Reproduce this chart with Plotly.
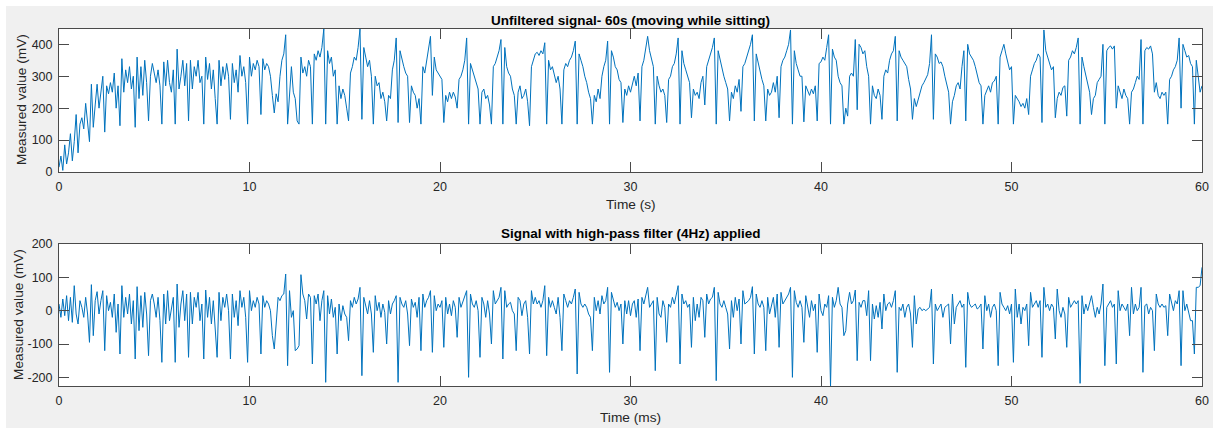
import plotly.graph_objects as go

# ---- recorded data (10 samples per second, 0 .. 60 s) ----
SAMPLE_RATE_HZ = 10

unfiltered_mv = [
    15, 50, 5, 85, 25, 60, 120, 35, 95, 180,
    60, 150, 170, 135, 215, 160, 95, 275, 140, 210,
    275, 200, 250, 300, 125, 270, 245, 280, 250, 310,
    200, 270, 145, 355, 250, 320, 280, 330, 260, 300,
    140, 360, 230, 330, 240, 350, 280, 160, 300, 340,
    310, 280, 320, 270, 150, 345, 270, 350, 280, 250,
    320, 150, 385, 260, 300, 350, 270, 340, 160, 350,
    260, 330, 300, 350, 280, 300, 150, 360, 290, 340,
    260, 320, 230, 150, 350, 270, 330, 290, 340, 300,
    165, 340, 280, 320, 250, 365, 300, 330, 280, 150,
    360, 300, 340, 320, 350, 330, 180, 355, 320, 340,
    330, 300, 240, 185, 245, 220, 300, 350, 370, 430,
    150, 260, 330, 250, 230, 160, 150, 360, 310, 330,
    300, 350, 330, 150, 370, 350, 380, 360, 390, 448,
    150, 380, 340, 360, 300, 320, 150, 270, 230, 260,
    240, 200, 160, 310, 330, 360, 350, 390, 448, 165,
    390, 360, 330, 350, 300, 150, 300, 270, 280, 230,
    250, 220, 160, 240, 230, 320, 350, 420, 155, 380,
    350, 330, 310, 300, 155, 270, 250, 240, 200, 230,
    150, 330, 310, 350, 380, 425, 240, 360, 320, 310,
    300, 290, 155, 240, 220, 250, 230, 250, 235, 200,
    290, 300, 320, 350, 420, 150, 340, 320, 300, 280,
    260, 150, 250, 260, 230, 240, 210, 150, 330, 340,
    360, 380, 415, 150, 390, 330, 310, 300, 260, 240,
    150, 250, 270, 230, 240, 260, 220, 145, 330, 350,
    370, 375, 365, 380, 370, 405, 150, 350, 320, 330,
    300, 280, 300, 260, 150, 320, 340, 330, 350, 360,
    380, 410, 150, 370, 350, 330, 300, 280, 250, 230,
    150, 240, 220, 260, 230, 300, 330, 350, 410, 150,
    380, 360, 330, 320, 290, 280, 155, 260, 240, 270,
    250, 280, 300, 270, 310, 160, 330, 350, 390, 425,
    380, 350, 330, 150, 300, 270, 250, 260, 240, 155,
    290, 300, 330, 340, 370, 420, 150, 380, 340, 320,
    300, 280, 170, 260, 240, 250, 230, 280, 300, 210,
    330, 350, 370, 390, 420, 150, 380, 350, 320, 300,
    280, 260, 160, 250, 230, 270, 250, 290, 190, 330,
    340, 360, 380, 400, 430, 160, 370, 340, 310, 290,
    270, 160, 260, 240, 250, 280, 250, 300, 170, 330,
    350, 360, 380, 400, 445, 150, 380, 340, 320, 300,
    300, 157, 270, 255, 240, 260, 245, 270, 160, 340,
    345, 360, 350, 390, 430, 150, 385, 360, 350, 300,
    280, 270, 150, 200, 175, 300, 310, 300, 415, 195,
    400, 390, 370, 380, 330, 300, 150, 270, 240, 230,
    260, 240, 165, 300, 320, 310, 350, 370, 380, 425,
    160, 380, 360, 350, 340, 330, 290, 260, 165, 230,
    205, 225, 250, 270, 280, 295, 305, 340, 430, 165,
    370, 360, 340, 345, 330, 300, 270, 250, 150, 220,
    240, 270, 280, 260, 330, 380, 160, 400, 370, 360,
    350, 330, 300, 280, 270, 150, 240, 255, 270, 250,
    280, 285, 300, 150, 360, 380, 400, 370, 340, 320,
    330, 150, 240, 230, 220, 205, 215, 200, 230, 180,
    300, 320, 340, 350, 370, 360, 155, 445, 380, 360,
    340, 320, 330, 170, 230, 250, 240, 265, 270, 175,
    350, 360, 380, 370, 390, 420, 150, 360, 330, 300,
    280, 250, 180, 230, 240, 280, 290, 300, 400, 150,
    380, 390, 395, 385, 395, 200, 270, 250, 230, 260,
    240, 230, 150, 250, 260, 280, 300, 290, 415, 150,
    380, 390, 385, 395, 370, 250, 280, 240, 230, 250,
    240, 250, 150, 290, 300, 320, 330, 350, 420, 200,
    400, 380, 360, 365, 340, 330, 150, 350, 300, 250,
    270,
]

highpass_mv = [
    20, -20, 35, -15, 45, -30, 40, -35, 75, -10,
    -40, 30, 10, -20, 40, -10, -95, 78, -75, 30,
    57, -10, 30, 60, -120, 45, 0, 25, -20, 50,
    -65, 20, -130, 75, -20, 40, -10, 50, -40, 30,
    -145, 72, -60, 45, -50, 55, -10, -135, 30, 50,
    20, -20, 40, -30, -155, 50, -40, 60, -30, 10,
    40, -155, 80, -50, 20, 60, -30, 50, -140, 55,
    -40, 40, 10, 55, -30, 20, -145, 62, -20, 40,
    -40, 30, -60, -140, 55, -30, 40, 10, 50, 0,
    -145, 50, -20, 30, -45, 60, 10, 40, -20, -155,
    60, 0, 30, 10, 40, 20, -130, 45, 10, 30,
    20, 0, -75, -115, -40, 40, 30, 45, 50, 110,
    -165, 60, -20, 0, -120, -115, -105, 108, 50, 30,
    -25, 50, 40, -160, 45, 20, 50, -30, 30, 60,
    -215, 45, -10, 35, -20, 10, -130, 20, -30, 15,
    -10, -20, -90, 30, 10, 40, 20, 35, 70, -195,
    40, 10, -10, 30, -10, -125, 45, 0, 25, -20,
    20, -5, -100, 30, -10, 20, 30, 45, -215, 40,
    20, 10, 30, -10, -105, 35, 10, 25, -20, 40,
    -120, 50, 10, 30, 40, 60, -125, 45, 0, 20,
    10, 30, -110, 40, -10, 20, -15, 30, 10, -80,
    40, 10, 25, 45, 60, -200, 50, 20, 10, 30,
    0, -140, 40, 20, -20, 30, -10, -100, 60, 20,
    30, 40, 70, -145, 60, 10, 20, 25, 0, -10,
    -120, 40, 30, -15, 20, 30, -20, -130, 60, 20,
    40, 20, 30, 10, 30, 75, -135, 40, 10, 30,
    10, -10, 40, -20, -120, 50, 30, 10, 30, 20,
    40, 65, -190, 55, 20, 10, 20, 10, -10, -20,
    -120, 40, 0, 30, -10, 45, 20, 30, 70, -185,
    55, 30, 10, 25, 0, 20, -100, 30, -10, 30,
    -15, 20, 30, -20, 35, -120, 40, 20, 45, 70,
    10, 20, 30, -180, 40, -10, -20, 30, 10, -95,
    20, 10, 40, 20, 45, 75, -160, 50, 20, 30,
    10, 20, -110, 40, -30, 20, -20, 40, 30, -80,
    50, 20, 35, 40, 70, -210, 55, 20, 10, 30,
    10, -10, -115, 30, -20, 40, 0, 35, -100, 60,
    20, 25, 30, 40, 72, -130, 50, 20, 10, 30,
    10, -120, 40, -10, 20, 40, -20, 50, -110, 55,
    20, 30, 40, 50, 70, -200, 60, 25, 10, 30,
    10, -95, 45, 10, -20, 30, 0, 20, -125, 50,
    0, -15, 20, 10, 45, -226, 40, 10, 30, 70,
    20, 10, -75, -60, 20, 55, 20, 30, 62, -150,
    25, 10, 30, 30, -15, 60, -150, 20, -25, 15,
    -20, 25, -55, 50, 0, 20, 25, 10, 30, 60,
    -185, 10, 0, 20, -20, 10, 20, -10, -110, 45,
    -40, 5, 10, 0, 5, 0, 5, 10, 65, -160,
    20, 0, 10, 20, -20, 10, 15, 20, -100, 50,
    -40, 10, 20, 30, 10, 20, -170, 55, 20, 10,
    15, 20, 5, 10, 20, -115, 45, 0, 20, -20,
    10, 20, 0, -165, 55, 20, 10, 0, 15, -10,
    20, -155, 65, -20, 20, -40, 10, 0, 20, -105,
    55, 10, 20, 30, 10, 30, -140, 70, 10, 20,
    0, 20, 10, -85, 65, 0, -20, 10, -10, -110,
    40, 10, 20, 30, 20, 30, -218, 45, -10, 20,
    0, 20, 45, 10, -20, 10, -10, 20, 80, -165,
    10, 20, 30, 10, 20, -160, 60, 0, 20, 10,
    0, 20, -75, 70, -10, 20, 0, 10, 70, -185,
    15, 20, -10, 10, 0, -120, 50, 20, 10, 20,
    10, 15, -75, 50, 20, 0, 30, 20, 60, -165,
    60, 0, 20, -10, -30, -30, -130, 70, 70, 75,
    130,
]

x_ticks = [0, 10, 20, 30, 40, 50, 60]
top_y_ticks = [0, 100, 200, 300, 400]
bottom_y_ticks = [-200, -100, 0, 100, 200]
bottom_y_labels = ["-200", "-100", "0", "100", "200"]

top_title = "Unfiltered signal- 60s (moving while sitting)"
bottom_title = "Signal with high-pass filter (4Hz) applied"
top_x_label = "Time (s)"
bottom_x_label = "Time (ms)"
y_label = "Measured value (mV)"

time_top = [i / SAMPLE_RATE_HZ for i in range(len(unfiltered_mv))]
time_bottom = [i / SAMPLE_RATE_HZ for i in range(len(highpass_mv))]

# ---- page geometry (pixels) ----
W, H = 1213, 428
ML, MR, MT, MB = 59, 11, 29, 42
PW, PH = W - ML - MR, H - MT - MB


def px_x(px):
    return (px - ML) / PW


def px_y(py):
    return (H - MB - py) / PH


LINE = "#0072BD"
AX = "#4a4a4a"
TXT = "#262626"
FONT = "Liberation Sans, Arial, Helvetica, sans-serif"

fig = go.Figure()
fig.add_trace(go.Scatter(x=time_top, y=unfiltered_mv, mode="lines",
                         line=dict(color=LINE, width=1), xaxis="x", yaxis="y",
                         showlegend=False, hoverinfo="skip"))
fig.add_trace(go.Scatter(x=time_bottom, y=highpass_mv, mode="lines",
                         line=dict(color=LINE, width=1), xaxis="x2", yaxis="y2",
                         showlegend=False, hoverinfo="skip"))

axis_common = dict(showline=True, mirror="allticks", linecolor=AX, linewidth=1,
                   ticks="inside", ticklen=10, tickcolor=AX, tickwidth=1,
                   showgrid=False, zeroline=False, automargin=False,
                   tickfont=dict(family=FONT, size=12.5, color=TXT),
                   ticklabelstandoff=3)

fig.update_layout(
    width=W, height=H, autosize=False,
    margin=dict(l=ML, r=MR, t=MT, b=MB, autoexpand=False),
    paper_bgcolor="#f0f0f0", plot_bgcolor="white",
    xaxis=dict(domain=[0, 1], anchor="y", range=[0, 60], tickvals=x_ticks, **axis_common),
    yaxis=dict(domain=[px_y(172), 1], anchor="x", range=[0, 448], tickvals=top_y_ticks, **axis_common),
    xaxis2=dict(domain=[0, 1], anchor="y2", range=[0, 60], tickvals=x_ticks, **axis_common),
    yaxis2=dict(domain=[0, px_y(244)], anchor="x2", range=[-226, 200], tickmode="array",
                tickvals=bottom_y_ticks, ticktext=bottom_y_labels, **axis_common),
    shapes=[
        # white strip along the top and left edge of the window
        dict(type="rect", xref="paper", yref="paper", x0=px_x(0), x1=px_x(W), y0=px_y(6), y1=px_y(0),
             fillcolor="white", line=dict(width=0), layer="below"),
        dict(type="rect", xref="paper", yref="paper", x0=px_x(0), x1=px_x(6), y0=px_y(H), y1=px_y(0),
             fillcolor="white", line=dict(width=0), layer="below"),
    ],
    annotations=[
        dict(text="<b>" + top_title + "</b>", x=0.5, y=px_y(20), xref="paper", yref="paper",
             showarrow=False, xanchor="center", yanchor="middle",
             font=dict(family=FONT, size=13.5, color="black")),
        dict(text="<b>" + bottom_title + "</b>", x=0.5, y=px_y(234), xref="paper", yref="paper",
             showarrow=False, xanchor="center", yanchor="middle",
             font=dict(family=FONT, size=13.5, color="black")),
        dict(text=top_x_label, x=0.5, y=px_y(204), xref="paper", yref="paper",
             showarrow=False, xanchor="center", yanchor="middle",
             font=dict(family=FONT, size=13.7, color=TXT)),
        dict(text=bottom_x_label, x=0.5, y=px_y(418), xref="paper", yref="paper",
             showarrow=False, xanchor="center", yanchor="middle",
             font=dict(family=FONT, size=13.7, color=TXT)),
        dict(text=y_label, x=px_x(22), y=px_y(100), xref="paper", yref="paper",
             showarrow=False, xanchor="center", yanchor="middle", textangle=-90,
             font=dict(family=FONT, size=13.7, color=TXT)),
        dict(text=y_label, x=px_x(18), y=px_y(315), xref="paper", yref="paper",
             showarrow=False, xanchor="center", yanchor="middle", textangle=-90,
             font=dict(family=FONT, size=13.7, color=TXT)),
    ],
)

fig.write_html("out.html")
